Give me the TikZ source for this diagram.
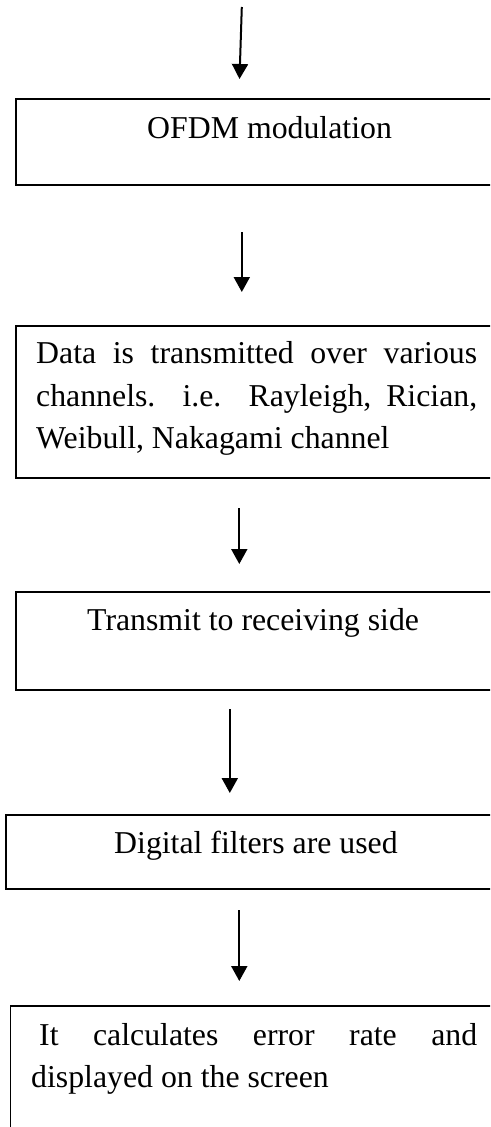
\documentclass[tikz,border=0pt]{standalone}
\usepackage{fontspec}
\setmainfont{Liberation Serif}
\usetikzlibrary{arrows.meta}
\tikzset{
  box/.style={draw, line width=1.8pt, rectangle, inner sep=0pt, anchor=north west},
  flow/.style={line width=2pt, -{Triangle[length=15pt,width=16pt]}},
  txt/.style={inner sep=0pt, anchor=base west, font=\fontsize{31.8}{42}\selectfont}
}
\begin{document}
\begin{tikzpicture}[x=1pt,y=-1pt]
\useasboundingbox (0,0) rectangle (490,1127);
\clip (0,0) rectangle (490,1127);
% boxes
\node[box, minimum width=485pt, minimum height=86pt] (b1) at (15,98) {};
\node[box, minimum width=485pt, minimum height=152pt] (b2) at (15,325) {};
\node[box, minimum width=485pt, minimum height=98pt] (b3) at (15,591) {};
\node[box, minimum width=495pt, minimum height=74pt] (b4) at (5,814) {};
\node[box, minimum width=490pt, minimum height=140pt] (b5) at (9.5,1005) {};
% texts
\node[txt] (t1) at (147,138) {OFDM modulation};
\node[txt] (t2a) at (36,363) {\makebox[441pt][s]{Data is transmitted over various}};
\node[txt] (t2b) at (36,406) {\makebox[441pt][s]{channels. i.e. Rayleigh, Rician,}};
\node[txt] (t2c) at (36,448) {Weibull, Nakagami channel};
\node[txt] (t3) at (87,630) {Transmit to receiving side};
\node[txt] (t4) at (114,853) {Digital filters are used};
\node[txt] (t5a) at (39,1045) {\makebox[438pt][s]{It calculates error rate and}};
\node[txt] (t5b) at (31,1087) {displayed on the screen};
% arrow end points
\coordinate (a1s) at (241.8,7);
\coordinate (a1e) at (239.5,79);
\coordinate (a2s) at (241.8,232);
\coordinate (a2e) at (241.8,292);
\coordinate (a3s) at (239.3,508);
\coordinate (a3e) at (239.3,564);
\coordinate (a4s) at (229.8,709);
\coordinate (a4e) at (229.8,793);
\coordinate (a5s) at (239.3,910);
\coordinate (a5e) at (239.3,981);
\draw[flow] (a1s) -- (a1e);
\draw[flow] (a2s) -- (a2e);
\draw[flow] (a3s) -- (a3e);
\draw[flow] (a4s) -- (a4e);
\draw[flow] (a5s) -- (a5e);
\end{tikzpicture}
\end{document}
